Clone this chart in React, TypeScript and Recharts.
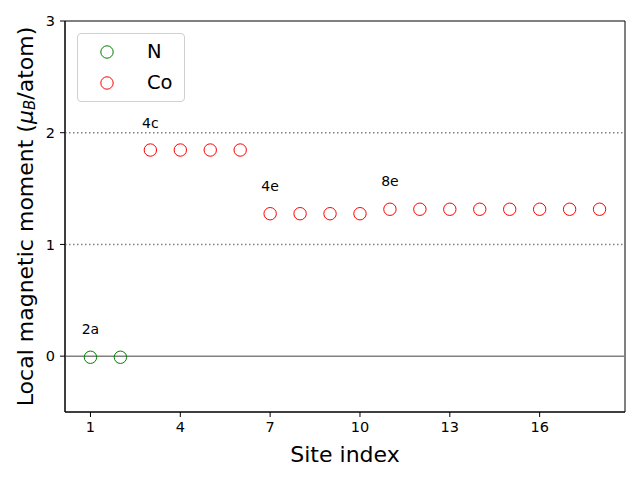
import { ReferenceArea, ReferenceLine, Scatter, ScatterChart, XAxis, YAxis } from "recharts";

// site index / local moment
const nSites = [1, 2];
const nMoments = [-0.01, -0.01];

const coSites = [3, 4, 5, 6, 7, 8, 9, 10, 11, 12, 13, 14, 15, 16, 17, 18];
const coMoments = [1.845, 1.845, 1.845, 1.845, 1.275, 1.275, 1.275, 1.275, 1.315, 1.315, 1.315, 1.315, 1.315, 1.315, 1.315, 1.315];

// Wyckoff labels
const wyckoffText = ["2a", "4c", "4e", "8e"];
const wyckoffX = [1, 3, 7, 11];
const wyckoffY = [0.24, 2.09, 1.52, 1.57];

const xTicks = [1, 4, 7, 10, 13, 16];
const yTicks = [0, 1, 2, 3];

const nData = nSites.map((s, i) => ({ site: s, moment: nMoments[i] }));
const coData = coSites.map((s, i) => ({ site: s, moment: coMoments[i] }));
const labelData = wyckoffText.map((t, i) => ({ site: wyckoffX[i], moment: wyckoffY[i], text: t }));

const FONT = "DejaVu Sans, sans-serif";

function Ring(props: any) {
    const { cx, cy, stroke } = props;
    return <circle cx={cx} cy={cy} r={6.2} fill="none" stroke={stroke} strokeWidth={1} />;
}

function TextMark(props: any) {
    const { cx, cy, payload } = props;
    return <text x={cx} y={cy} textAnchor="middle" dominantBaseline="central"
        fontSize={14} fontFamily={FONT} fill="#000">{payload.text}</text>;
}

function YLabel(props: any) {
    const vb = props.viewBox;
    const cy = vb.y + vb.height / 2;
    return <text x={25} y={cy} transform={`rotate(-90, 25, ${cy})`} textAnchor="middle"
        dominantBaseline="central" fontSize={22} fontFamily={FONT} fill="#000">
        Local magnetic moment (<tspan fontStyle="italic">μ</tspan>
        <tspan fontStyle="italic" fontSize={15} dy={5}>B</tspan>
        <tspan dy={-5}>/atom)</tspan>
    </text>;
}

function XLabel(props: any) {
    const vb = props.viewBox;
    return <text x={vb.x + vb.width / 2} y={462} textAnchor="middle"
        fontSize={22} fontFamily={FONT} fill="#000">Site index</text>;
}

function LegendBox() {
    const items = [{ name: "N", color: "green" }, { name: "Co", color: "red" }];
    return <div style={{ position: "absolute", left: 77, top: 33, width: 108, height: 69, border: "1px solid #d0d0d0", borderRadius: 4, background: "rgba(255,255,255,0.8)", boxSizing: "border-box" }}>
        {items.map((it, i) => (
            <div key={it.name} style={{ position: "absolute", left: 0, top: 6 + i * 31, height: 24, display: "flex", alignItems: "center" }}>
                <svg width={60} height={24} style={{ display: "block" }}>
                    <circle cx={29} cy={12} r={6.2} fill="none" stroke={it.color} strokeWidth={1} />
                </svg>
                <span style={{ fontFamily: FONT, fontSize: 19.5, color: "#000", marginLeft: 9, lineHeight: "24px" }}>{it.name}</span>
            </div>
        ))}
    </div>;
}

export default function App() {
    return <div style={{ position: "absolute", left: 0, top: 0, width: 640, height: 480, background: "#fff" }}>
        <ScatterChart width={640} height={480} margin={{ top: 21, right: 15, bottom: 0, left: 0 }}>
            <XAxis dataKey="site" type="number" domain={[0.15, 18.85]} ticks={xTicks} allowDataOverflow
                axisLine={{ stroke: "#000" }} tickLine={{ stroke: "#000" }} tickSize={5} tickMargin={5}
                tick={{ fontSize: 14.5, fontFamily: FONT, fill: "#000" }} height={68}
                label={<XLabel />} />
            <YAxis dataKey="moment" type="number" domain={[-0.5, 3]} ticks={yTicks} allowDataOverflow
                axisLine={{ stroke: "#000" }} tickLine={{ stroke: "#000" }} tickSize={5} tickMargin={5}
                tick={{ fontSize: 14.5, fontFamily: FONT, fill: "#000" }} width={65}
                label={<YLabel />} />
            <ReferenceArea x1={0.15} x2={18.85} y1={-0.5} y2={3} fill="none" stroke="#000" strokeWidth={1} ifOverflow="visible" />
            <ReferenceLine y={0} stroke="#808080" strokeWidth={1.5} />
            <ReferenceLine y={1} stroke="#808080" strokeWidth={1.5} strokeDasharray="1.5 2.5" />
            <ReferenceLine y={2} stroke="#808080" strokeWidth={1.5} strokeDasharray="1.5 2.5" />
            <Scatter name="N" data={nData} stroke="green" fill="none" shape={<Ring />} isAnimationActive={false} />
            <Scatter name="Co" data={coData} stroke="red" fill="none" shape={<Ring />} isAnimationActive={false} />
            <Scatter name="labels" data={labelData} shape={<TextMark />} isAnimationActive={false} legendType="none" />
        </ScatterChart>
        <LegendBox />
    </div>;
}
